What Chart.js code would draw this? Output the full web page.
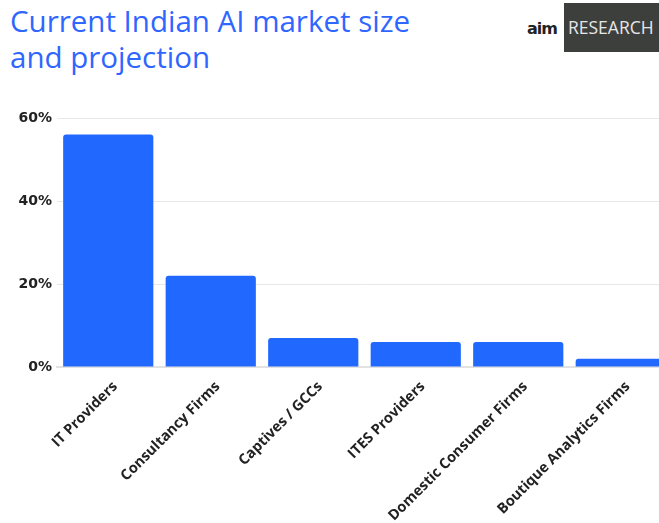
<!DOCTYPE html>
<html>
<head>
<meta charset="utf-8">
<script src="https://cdn.jsdelivr.net/npm/chart.js@4"></script>
<style>
  html, body { margin: 0; padding: 0; background: #fff; overflow: hidden; }
  body { width: 659px; height: 523px; position: relative; }
  .title {
    position: absolute; left: 10px; top: 3px;
    font-family: "Open Sans", sans-serif; font-weight: 400;
    font-size: 29.5px; line-height: 36px; color: #2f66ff;
  }
  .brand { position: absolute; left: 527px; top: 19px; font-family: "DejaVu Sans", sans-serif;
    font-weight: 900; font-size: 16px; color: #222; letter-spacing: -1px; }
  .badge {
    position: absolute; left: 564px; top: 3px; width: 100px; height: 49px;
    background: #3d3f3d; color: #e6e6e6;
    font-family: "Open Sans", sans-serif; font-size: 17.5px; line-height: 49px; padding-left: 4px;
  }
  .plot { position: absolute; left: 0; top: 100px; width: 672px; height: 423px; }
</style>
</head>
<body>
<div class="title">Current Indian AI market size<br>and projection</div>
<div class="brand">aim</div>
<div class="badge">RESEARCH</div>
<div class="plot"><canvas id="share"></canvas></div>
<script>
// market share by provider segment (%)
const segments = ['IT Providers', 'Consultancy Firms', 'Captives / GCCs', 'ITES Providers', 'Domestic Consumer Firms', 'Boutique Analytics Firms'];
const shares = [56, 22, 7, 6, 6, 2];
const yTicks = [0, 20, 40, 60];

new Chart(document.getElementById('share').getContext('2d'), {
    type: 'bar',
    data: {
        labels: segments,
        datasets: [{ data: shares, backgroundColor: '#2168ff', borderRadius: 3, borderSkipped: 'bottom',
            barPercentage: 0.88, categoryPercentage: 1 }]
    },
    options: {
        responsive: true,
        maintainAspectRatio: false,
        animation: false,
        layout: { padding: { top: 18, left: 0, right: 0, bottom: 0 } },
        plugins: { legend: { display: false }, tooltip: { enabled: false } },
        scales: {
            x: {
                grid: { display: false },
                border: { display: true, color: '#e2e2e2', width: 2 },
                ticks: { color: '#222', font: { family: '"Open Sans", sans-serif', size: 14.5, weight: '700' },
                    maxRotation: 45, minRotation: 45, autoSkip: false, padding: 3, labelOffset: 7 },
                afterFit: s => { s.height = 156; }
            },
            y: {
                min: 0, max: 60,
                afterBuildTicks: s => { s.ticks = yTicks.map(v => ({ value: v })); },
                grid: { color: '#e8e8e8', drawTicks: false },
                border: { display: false },
                ticks: { color: '#222', font: { family: '"DejaVu Sans", sans-serif', size: 14, weight: '700' },
                    padding: 5, callback: v => v + '%' },
                afterFit: s => { s.width = 57; }
            }
        }
    }
});
</script>
</body>
</html>
